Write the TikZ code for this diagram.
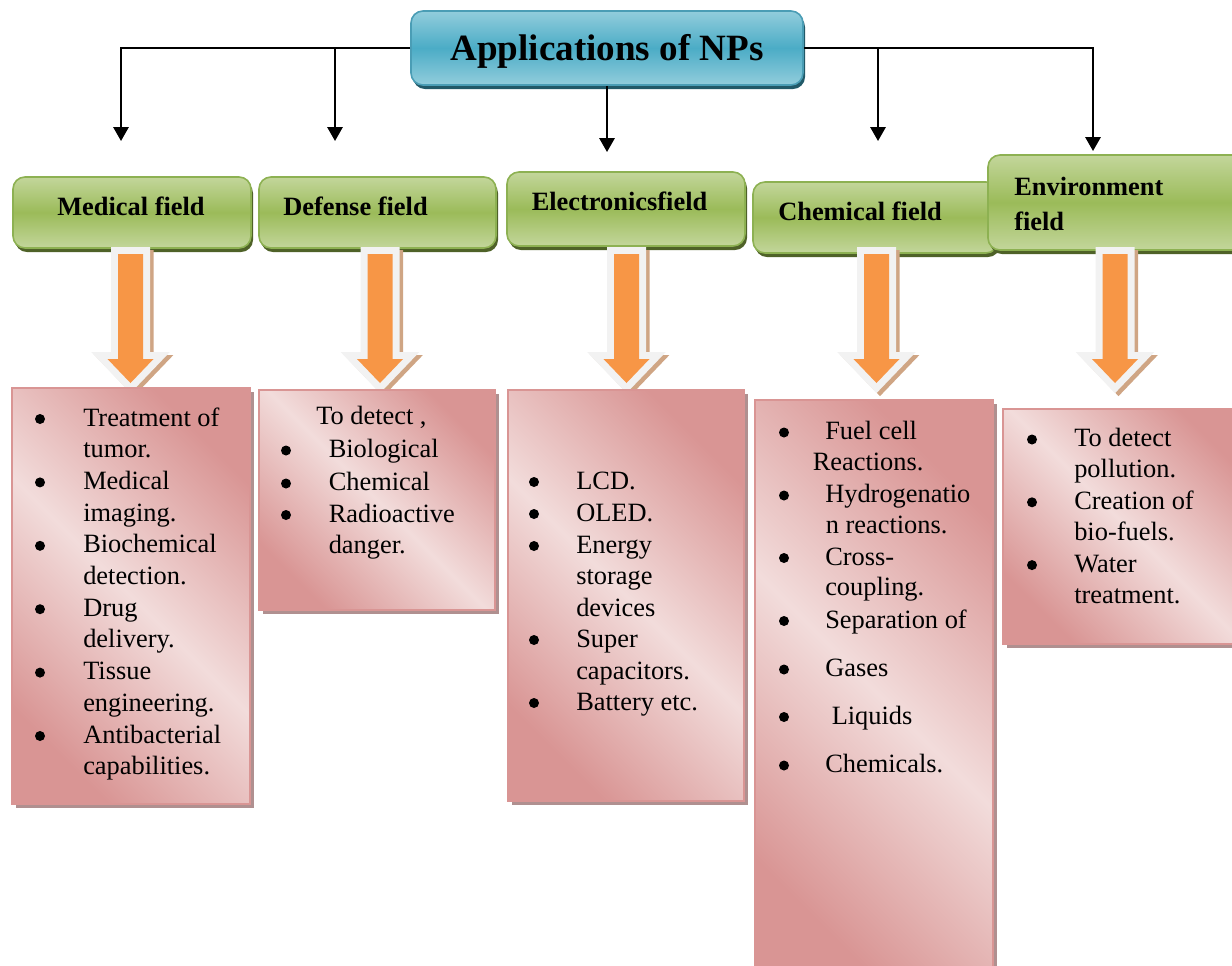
\documentclass[tikz,border=0pt]{standalone}
\usepackage{fontspec}
\setmainfont{Liberation Serif}
\usetikzlibrary{arrows.meta,shadows,fit}
\definecolor{tealL}{HTML}{92CDDC}
\definecolor{tealM}{HTML}{4BACC6}
\definecolor{tealD}{HTML}{215968}
\definecolor{tealB}{HTML}{4A9DB5}
\definecolor{greenL}{HTML}{C3D69B}
\definecolor{greenM}{HTML}{9BBB59}
\definecolor{greenB}{HTML}{8DB152}
\definecolor{greenS}{HTML}{4F6228}
\definecolor{pinkL}{HTML}{F2DCDB}
\definecolor{pinkD}{HTML}{D99594}
\definecolor{pinkB}{HTML}{D99594}
\definecolor{pinkS}{HTML}{B09090}
\definecolor{orangeA}{HTML}{F79646}
\definecolor{arrowW}{HTML}{F2F2F2}
\definecolor{arrowS}{HTML}{CFA584}
\newcommand\bodyfont{\fontsize{19.8}{23.7}\selectfont}
\newcommand\titlefont{\fontsize{27.8}{33}\selectfont\bfseries}
\newcommand\mytext[4]{\node[txt] (#1) at (#2,#3) {#4};}
\newcommand\mybul[3]{\node[bul] (#1) at (#2,#3-7) {};}
\newcommand\blockarrow[1]{%
  \begin{scope}[shift={(#1,0)}]
    \path[fill=arrowS, draw=arrowS, line width=10.5pt, line join=miter, shift={(3.5,3)}]
      (-12.5,254) -- (12.5,254) -- (12.5,359) -- (23,359) -- (0,383) -- (-23,359) -- (-12.5,359) -- cycle;
    \path[fill=arrowW, draw=arrowW, line width=10.5pt, line join=miter]
      (-12.5,254) -- (12.5,254) -- (12.5,359) -- (23,359) -- (0,383) -- (-23,359) -- (-12.5,359) -- cycle;
    \path[fill=orangeA]
      (-12.5,254) -- (12.5,254) -- (12.5,359) -- (23,359) -- (0,383) -- (-23,359) -- (-12.5,359) -- cycle;
  \end{scope}}
\tikzset{
  conn/.style={line width=1.6pt, -{Triangle[width=11.5pt,length=10.5pt]}},
  titlebox/.style={rounded corners=9pt, draw=tealB, line width=1.2pt,
    top color=tealL, bottom color=tealL, middle color=tealM,
    drop shadow={shadow xshift=1.5pt, shadow yshift=-3pt, opacity=1, fill=tealD},
    inner sep=0pt},
  greenbox/.style={rounded corners=9pt, draw=greenB, line width=1.2pt,
    top color=greenL, bottom color=greenL, middle color=greenM,
    drop shadow={shadow xshift=1.5pt, shadow yshift=-3pt, opacity=1, fill=greenS},
    inner sep=0pt},
  pinkbox/.style={draw=pinkB, line width=1.2pt,
    top color=pinkD, bottom color=pinkD, middle color=pinkL, shading angle=-45,
    drop shadow={shadow xshift=3pt, shadow yshift=-3pt, opacity=1, fill=pinkS},
    inner sep=0pt},
  txt/.style={font=\bodyfont, inner sep=0pt, anchor=base west},
  lbl/.style={font=\bodyfont\bfseries, inner sep=0pt, anchor=base west},
  bul/.style={circle, fill=black, inner sep=0pt, minimum size=7.5pt},
}
\begin{document}
\begin{tikzpicture}[x=0.75pt,y=-0.75pt]
\useasboundingbox (0,0) rectangle (1232,965);

% title
\node[titlebox, fit={(411,11) (803,85)}] (title) {};
\node[font=\titlefont, inner sep=0pt, anchor=base] (titletext) at (607,60) {Applications of NPs};

% connectors
\coordinate (c1) at (121,141);
\coordinate (c2) at (335,141);
\coordinate (c3) at (607,152);
\coordinate (c4) at (878,141);
\coordinate (c5) at (1093,151);
\draw[conn] (title.west) -| (c1);
\draw[conn] (c2 |- title.west) -- (c2);
\draw[conn] (title.south) -- (c3);
\draw[conn] (title.east) -| (c5);
\draw[conn] (c4 |- title.east) -- (c4);

% green boxes
\node[greenbox, fit={(13,177) (251,248)}] (g1) {};
\node[greenbox, fit={(259,177) (496,248)}] (g2) {};
\node[greenbox, fit={(507,172) (745,246)}] (g3) {};
\node[greenbox, fit={(753,182) (998,253)}] (g4) {};
\node[greenbox, fit={(988,155) (1260,250)}] (g5) {};
\node[lbl] (l1) at (57,215) {Medical field};
\node[lbl] (l2) at (283,215) {Defense field};
\node[lbl] (l3) at (531.5,210) {Electronicsfield};
\node[lbl] (l4) at (778,220) {Chemical field};
\node[lbl] (l5a) at (1014,195) {Environment};
\node[lbl] (l5b) at (1014,230.5) {field};

% block arrows
\blockarrow{130.5}
\blockarrow{380}
\blockarrow{626.5}
\blockarrow{876.5}
\blockarrow{1115}

% pink boxes
\node[pinkbox, fit={(12,388) (250,804)}] (p1) {};
\node[pinkbox, fit={(259,390) (495,610)}] (p2) {};
\node[pinkbox, fit={(508,390) (744,801)}] (p3) {};
\node[pinkbox, fit={(755,400) (993,980)}] (p4) {};
\node[pinkbox, fit={(1003,409) (1250,644)}] (p5) {};

% medical
\mybul{mb1}{40}{426}
\mytext{m1}{83}{426}{Treatment of}
\mytext{m2}{83}{457.7}{tumor.}
\mybul{mb2}{40}{489.4}
\mytext{m3}{83}{489.4}{Medical}
\mytext{m4}{83}{521.1}{imaging.}
\mybul{mb3}{40}{552.8}
\mytext{m5}{83}{552.8}{Biochemical}
\mytext{m6}{83}{584.5}{detection.}
\mybul{mb4}{40}{616.2}
\mytext{m7}{83}{616.2}{Drug}
\mytext{m8}{83}{647.9}{delivery.}
\mybul{mb5}{40}{679.6}
\mytext{m9}{83}{679.6}{Tissue}
\mytext{m10}{83}{711.3}{engineering.}
\mybul{mb6}{40}{743}
\mytext{m11}{83}{743}{Antibacterial}
\mytext{m12}{83}{774.7}{capabilities.}

% defense
\mytext{d0}{316}{424.5}{To detect ,}
\mybul{db1}{286}{457.5}
\mytext{d1}{328.5}{457.5}{Biological}
\mybul{db2}{286}{490.5}
\mytext{d2}{328.5}{490.5}{Chemical}
\mybul{db3}{286}{522}
\mytext{d3}{328.5}{522}{Radioactive}
\mytext{d4}{328.5}{553.5}{danger.}

% electronics
\mybul{eb1}{534}{489}
\mytext{e1}{576}{489}{LCD.}
\mybul{eb2}{534}{521}
\mytext{e2}{576}{521}{OLED.}
\mybul{eb3}{534}{553}
\mytext{e3}{576}{553}{Energy}
\mytext{e4}{576}{584.5}{storage}
\mytext{e5}{576}{616}{devices}
\mybul{eb4}{534}{647}
\mytext{e6}{576}{647}{Super}
\mytext{e7}{576}{679}{capacitors.}
\mybul{eb5}{534}{710}
\mytext{e8}{576}{710}{Battery etc.}

% chemical
\mybul{cb1}{784}{439.5}
\mytext{k1}{825}{439.5}{Fuel cell}
\mytext{k2}{812.5}{470}{Reactions.}
\mybul{cb2}{784}{502.5}
\mytext{k3}{825}{502.5}{Hydrogenatio}
\mytext{k4}{825.5}{533}{n reactions.}
\mybul{cb3}{784}{565}
\mytext{k5}{825}{565}{Cross-}
\mytext{k6}{825}{595.5}{coupling.}
\mybul{cb4}{784}{628}
\mytext{k7}{825}{628}{Separation of}
\mybul{cb5}{784}{676.5}
\mytext{k8}{825}{676.5}{Gases}
\mybul{cb6}{784}{724}
\mytext{k9}{831.5}{724}{Liquids}
\mybul{cb7}{784}{772.5}
\mytext{k10}{825}{772.5}{Chemicals.}

% environment
\mybul{vb1}{1032}{446.5}
\mytext{v1}{1074}{446.5}{To detect}
\mytext{v2}{1074}{477.9}{pollution.}
\mybul{vb2}{1032}{509.3}
\mytext{v3}{1074}{509.3}{Creation of}
\mytext{v4}{1074}{540.7}{bio-fuels.}
\mybul{vb3}{1032}{572.1}
\mytext{v5}{1074}{572.1}{Water}
\mytext{v6}{1074}{603.5}{treatment.}
\end{tikzpicture}
\end{document}
